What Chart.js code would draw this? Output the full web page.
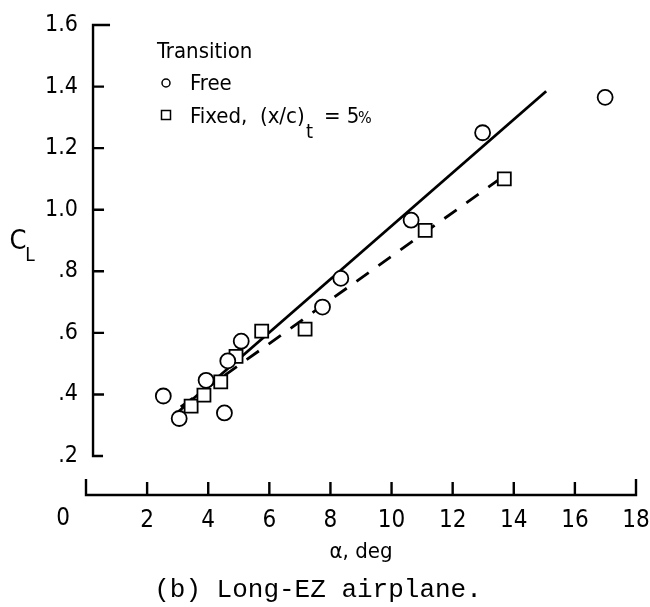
<!DOCTYPE html>
<html>
<head>
<meta charset="utf-8">
<script src="https://cdn.jsdelivr.net/npm/chart.js@4.4.1/dist/chart.umd.min.js"></script>
<style>
  html, body { margin: 0; padding: 0; background: #fff; }
</style>
</head>
<body>
<canvas id="myChart" width="650" height="607"></canvas>
<script>
// transition free (circles)
const freeAlpha = [2.53, 3.05, 3.93, 4.53, 4.64, 5.08, 7.74, 8.34, 10.64, 12.98, 16.99];
const freeCL = [0.395, 0.322, 0.446, 0.340, 0.509, 0.573, 0.684, 0.777, 0.966, 1.25, 1.365];

// transition fixed at 5% (squares)
const fixedAlpha = [3.44, 3.86, 4.41, 4.91, 5.75, 7.17, 11.10, 13.69];
const fixedCL = [0.362, 0.398, 0.441, 0.524, 0.606, 0.612, 0.933, 1.10];

// faired lines
const freeFitAlpha = [3.02, 15.06];
const freeFitCL = [0.344, 1.385];
const fixedFitAlpha = [3.1, 13.5];
const fixedFitCL = [0.36, 1.097];

const xTicks = [0, 2, 4, 6, 8, 10, 12, 14, 16, 18];
const yTicks = [0.2, 0.4, 0.6, 0.8, 1.0, 1.2, 1.4, 1.6];

const NARROW = '"Liberation Sans Narrow", "DejaVu Sans Condensed", sans-serif';

function pts(xs, ys) {
    return xs.map((x, i) => ({ x: x, y: ys[i] }));
}

const axesPlugin = {
    id: 'axes',
    afterDraw(chart) {
        const ctx = chart.ctx;
        const xs = chart.scales.x;
        const ys = chart.scales.y;
        ctx.save();
        ctx.strokeStyle = '#000';
        ctx.lineWidth = 2.4;
        ctx.lineCap = 'butt';

        // y axis, sits a little right of alpha = 0
        const yx = xs.getPixelForValue(0.23);
        const yTop = ys.getPixelForValue(1.6);
        const yBot = ys.getPixelForValue(0.2);
        ctx.beginPath();
        ctx.moveTo(yx + 17, yTop);
        ctx.lineTo(yx, yTop);
        ctx.lineTo(yx, yBot);
        ctx.lineTo(yx + 10, yBot);
        yTicks.slice(1, -1).forEach(v => {
            const p = ys.getPixelForValue(v);
            ctx.moveTo(yx, p);
            ctx.lineTo(yx + 11, p);
        });
        ctx.stroke();

        // x axis along the bottom of the plot
        const xb = chart.chartArea.bottom;
        const x0 = xs.getPixelForValue(0);
        const x18 = xs.getPixelForValue(18);
        ctx.beginPath();
        ctx.moveTo(x0, xb - 16);
        ctx.lineTo(x0, xb);
        ctx.lineTo(x18, xb);
        ctx.lineTo(x18, xb - 16);
        xTicks.slice(1, -1).forEach(v => {
            const p = xs.getPixelForValue(v);
            ctx.moveTo(p, xb);
            ctx.lineTo(p, xb - 13);
        });
        ctx.stroke();

        ctx.fillStyle = '#000';
        ctx.textBaseline = 'middle';
        ctx.textAlign = 'center';

        // the 0 of the alpha axis is set off to the left
        ctx.font = '24px ' + NARROW;
        ctx.fillText('0', 63, 519);

        // axis titles
        ctx.font = '27px ' + NARROW;
        ctx.fillText('C', 18, 242);
        ctx.font = '19px ' + NARROW;
        ctx.fillText('L', 30, 256);

        ctx.font = '22px ' + NARROW;
        ctx.fillText('\u03b1, deg', 361, 552);

        ctx.font = '26px "Liberation Mono", "DejaVu Sans Mono", monospace';
        ctx.fillText('(b) Long-EZ airplane.', 318, 590);

        // key
        ctx.textAlign = 'left';
        ctx.font = '22px ' + NARROW;
        ctx.fillText('Transition', 157, 52);
        ctx.fillText('Free', 190, 84);
        ctx.fillText('Fixed,  (x/c)', 190, 117);
        ctx.font = '20px ' + NARROW;
        ctx.fillText('t', 306, 133);
        ctx.font = '22px ' + NARROW;
        ctx.fillText('= 5', 324, 117);
        ctx.font = '16px ' + NARROW;
        ctx.fillText('%', 358, 119);

        ctx.lineWidth = 1.5;
        ctx.beginPath();
        ctx.arc(166, 83, 4, 0, Math.PI * 2);
        ctx.stroke();
        ctx.strokeRect(161.5, 110.5, 9, 9);
        ctx.restore();
    }
};

const data = {
    datasets: [
        {
            label: 'Free',
            data: pts(freeAlpha, freeCL),
            pointStyle: 'circle',
            pointRadius: 7.5,
            borderColor: '#000',
            backgroundColor: '#fff',
            borderWidth: 1.8,
            showLine: false,
            order: 0
        },
        {
            label: 'Fixed, (x/c)t = 5%',
            data: pts(fixedAlpha, fixedCL),
            pointStyle: 'rect',
            pointRadius: 9.2,
            borderColor: '#000',
            backgroundColor: '#fff',
            borderWidth: 1.8,
            showLine: false,
            order: 0
        },
        {
            label: 'Free fairing',
            data: pts(freeFitAlpha, freeFitCL),
            showLine: true,
            pointRadius: 0,
            borderColor: '#000',
            borderWidth: 2.8,
            order: 1
        },
        {
            label: 'Fixed fairing',
            data: pts(fixedFitAlpha, fixedFitCL),
            showLine: true,
            pointRadius: 0,
            borderColor: '#000',
            borderWidth: 2.8,
            borderDash: [15, 12],
            order: 1
        }
    ]
};

const config = {
    type: 'scatter',
    data: data,
    options: {
        responsive: false,
        animation: false,
        devicePixelRatio: 1,
        clip: false,
        layout: { padding: { top: 25, right: 14, left: 0, bottom: 0 } },
        plugins: {
            legend: { display: false },
            tooltip: { enabled: false }
        },
        scales: {
            x: {
                type: 'linear',
                min: 0,
                max: 18,
                afterBuildTicks: s => { s.ticks = xTicks.map(v => ({ value: v })); },
                afterFit: s => {
                    s.height = 112;
                    s.paddingLeft = 0;
                    s.paddingRight = 0;
                },
                grid: { display: false, drawTicks: false },
                border: { display: false },
                ticks: {
                    padding: 11,
                    color: '#000',
                    font: { family: NARROW, size: 24 },
                    maxRotation: 0,
                    callback: v => (v === 0 ? '' : String(v))
                }
            },
            y: {
                type: 'linear',
                min: 0.0735,
                max: 1.6,
                afterBuildTicks: s => { s.ticks = yTicks.map(v => ({ value: v })); },
                afterFit: s => {
                    s.width = 86;
                    s.paddingTop = 0;
                    s.paddingBottom = 0;
                },
                grid: { display: false, drawTicks: false },
                border: { display: false },
                ticks: {
                    padding: 8,
                    color: '#000',
                    font: { family: NARROW, size: 23 },
                    callback: v => (v < 1 ? v.toFixed(1).slice(1) : v.toFixed(1))
                }
            }
        }
    },
    plugins: [axesPlugin]
};

new Chart(document.getElementById('myChart'), config);
</script>
</body>
</html>
